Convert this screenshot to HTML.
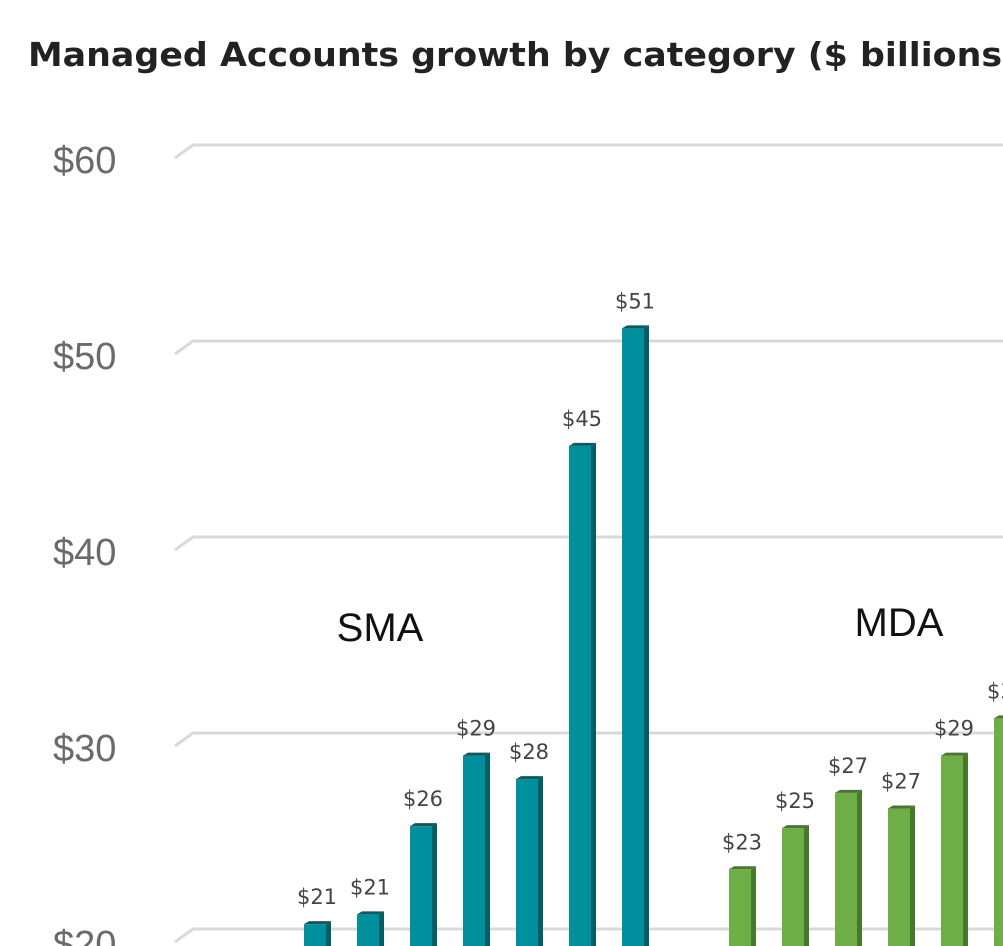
<!DOCTYPE html>
<html><head><meta charset="utf-8"><style>
body{margin:0;background:#fff;width:1003px;height:946px;overflow:hidden}
svg{display:block}
</style></head><body>
<svg id="chart" width="1003" height="946" viewBox="0 0 1003 946">
<text x="28" y="66" font-family="'DejaVu Sans','Liberation Sans',sans-serif" font-weight="bold" font-size="33" fill="#222" textLength="990" lengthAdjust="spacingAndGlyphs">Managed Accounts growth by category ($ billions)</text>
<g id="grid"></g><g id="bars"></g>
<text x="380" y="641" text-anchor="middle" font-family="'Liberation Sans',sans-serif" font-size="40" fill="#111">SMA</text>
<text x="899" y="636" text-anchor="middle" font-family="'Liberation Sans',sans-serif" font-size="40" fill="#111">MDA</text>
</svg>
<script>
const yTicks=[20,30,40,50,60];
const tickLabels=["$20","$30","$40","$50","$60"];
const smaValues=[20.4,20.9,25.4,29.0,27.8,44.8,50.8];
const smaLabels=["$21","$21","$26","$29","$28","$45","$51"];
const mdaValues=[23.2,25.3,27.1,26.3,29.0,30.9];
const mdaLabels=["$23","$25","$27","$27","$29","$31"];
const NS="http://www.w3.org/2000/svg";
const y=v=>929-(v-20)*19.6;
function mk(t,a,p){const e=document.createElementNS(NS,t);for(const k in a)e.setAttribute(k,a[k]);p.appendChild(e);return e;}
const grid=document.getElementById('grid'),bars=document.getElementById('bars');
yTicks.forEach((t,i)=>{
 const g=mk('polyline',{points:`175,${y(t)+13} 193,${y(t)} 1003,${y(t)}`,fill:'none',stroke:'#d9d9d9','stroke-width':3},grid);
 
 
 const l=mk('text',{x:53,y:y(t)+28,'font-family':"'Liberation Sans',sans-serif",'font-size':38,fill:'#6a6a6a'},grid);
 l.textContent=tickLabels[i];
 
 
});
function drawBars(vals,labels,x0,front,side,name){
 vals.forEach((v,i)=>{
  const x=x0+i*53, top=y(v);
  const g=mk('g',{},bars);
  
  
  mk('rect',{x:x,y:top+3,width:22,height:946-top,fill:front},g);
  mk('polygon',{points:`${x+22},${top+3} ${x+27},${top} ${x+27},946 ${x+22},946`,fill:side},g);
  mk('polygon',{points:`${x},${top+3} ${x+5},${top} ${x+27},${top} ${x+22},${top+3}`,fill:side},g);
  const t=mk('text',{x:x+13,y:top-17,'text-anchor':'middle','font-family':"'DejaVu Sans','Liberation Sans',sans-serif",'font-size':21,fill:'#444'},g);
  t.textContent=labels[i];
  
  
 });
}
drawBars(smaValues,smaLabels,304,'#008f9c','#005e66','sma');
drawBars(mdaValues,mdaLabels,729,'#6dae47','#467a2a','mda');
</script>
</body></html>
